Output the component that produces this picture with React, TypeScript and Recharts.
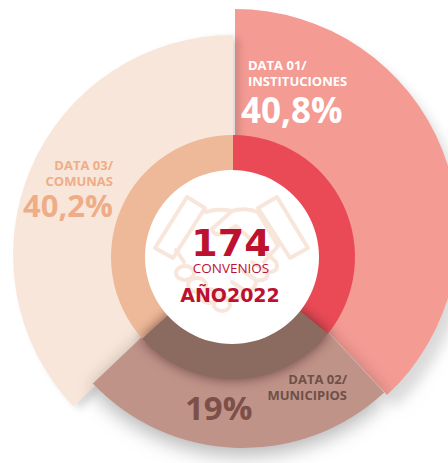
import { PieChart, Pie, Cell } from 'recharts';

const categories = ['Instituciones', 'Municipios', 'Comunas'];
const shareLabels = ['40,8%', '19%', '40,2%'];
// Slice sizes are the arcs as drawn in the picture (degrees), which differ from the printed shares.
const outerSweeps = [137, 89.5, 133.5];
const innerSweeps = [129, 99, 132];
const outerColors = ['#F49B94', '#C09389', '#F8E6DA'];
const innerColors = ['#E94A56', '#8B6A60', '#EEB998'];
// Each outer slice sits on its own centre and radius.
const outerShapes = [
  { index: 0, cx: 235, cy: 232, r: 223 },
  { index: 2, cx: 233, cy: 255, r: 220 },
  { index: 1, cx: 243, cy: 241, r: 207 },
];

const outerData = categories.map((name, i) => ({ name, value: outerSweeps[i] }));
const innerData = categories.map((name, i) => ({ name, value: innerSweeps[i] }));
const centerData = [{ name: 'centro', value: 1 }];

const RING_CX = 233;
const RING_CY = 257;
const labelFont = '"Open Sans", sans-serif';
const centerFont = '"DejaVu Sans", sans-serif';
const red = '#BC1230';

function HandshakeIcon() {
  return (
    <g fill="none" stroke="#F8E6DA" strokeWidth={4} strokeLinejoin="round" strokeLinecap="round">
      <path d="M187 197 L205 208 L173 258 L155 248 Z" />
      <path d="M277 197 L258 208 L290 258 L308 248 Z" />
      <path d="M206 212 Q218 208 232 211 Q245 207 258 212 L278 246 L264 262" />
      <path d="M232 211 L212 229 Q214 238 226 232 L236 226 L276 262 Q280 272 268 272 L252 262" />
      <path d="M176 250 L184 262" />
      <path d="M268 272 Q268 282 256 280 L242 270 M256 280 Q256 292 244 290 L232 282 M244 290 Q240 304 226 298 L212 290" />
      <ellipse cx={185} cy={273} rx={9} ry={7} />
      <ellipse cx={197} cy={285} rx={9} ry={7} />
      <ellipse cx={209} cy={296} rx={9} ry={7} />
      <ellipse cx={222} cy={305} rx={8} ry={6} />
    </g>
  );
}

export default function App() {
  return (
    <div style={{ position: 'absolute', left: 0, top: 0, width: 448, height: 463, overflow: 'hidden' }}>
      <style>{`
        .outer-0 { filter: drop-shadow(8px 12px 7px rgba(0,0,0,0.08)); }
        .outer-2 { filter: drop-shadow(6px 3px 4px rgba(0,0,0,0.08)); }
        .outer-1 { filter: drop-shadow(0px 6px 10px rgba(0,0,0,0.16)); }
        .inner-1 { filter: drop-shadow(0px 0px 6px rgba(60,30,30,0.35)); }
      `}</style>
      <PieChart width={448} height={463} margin={{ top: 0, right: 0, bottom: 0, left: 0 }}>
        {outerShapes.map(s => (
          <Pie
            key={s.index}
            className={`outer-${s.index}`}
            data={outerData}
            dataKey="value"
            cx={s.cx}
            cy={s.cy}
            innerRadius={0}
            outerRadius={s.r}
            startAngle={90}
            endAngle={-270}
            stroke="none"
            isAnimationActive={false}
          >
            {outerData.map((_, i) => (
              <Cell key={i} fill={i === s.index ? outerColors[i] : 'none'} />
            ))}
          </Pie>
        ))}
        {[0, 2, 1].map(index => (
          <Pie
            key={index}
            className={`inner-${index}`}
            data={innerData}
            dataKey="value"
            cx={RING_CX}
            cy={RING_CY}
            innerRadius={80}
            outerRadius={122}
            startAngle={90}
            endAngle={-270}
            stroke="none"
            isAnimationActive={false}
          >
            {innerData.map((_, i) => (
              <Cell key={i} fill={i === index ? innerColors[i] : 'none'} />
            ))}
          </Pie>
        ))}
        <Pie
          data={centerData}
          dataKey="value"
          cx={232}
          cy={RING_CY}
          innerRadius={0}
          outerRadius={87}
          stroke="none"
          fill="#FFFFFF"
          isAnimationActive={false}
        />
      </PieChart>
      <svg width={448} height={463} style={{ position: 'absolute', left: 0, top: 0 }}>
        <HandshakeIcon />
        <g fontFamily={labelFont} fontWeight={700}>
          <g fill="#FFFFFF">
            <text x={248} y={70} fontSize={13}>DATA 01/</text>
            <text x={248} y={86} fontSize={13}>INSTITUCIONES</text>
            <text x={241} y={123} fontSize={35}>{shareLabels[0]}</text>
          </g>
          <g fill="#EFAD87" textAnchor="end">
            <text x={113} y={170} fontSize={13}>DATA 03/</text>
            <text x={113} y={186} fontSize={13}>COMUNAS</text>
            <text x={113} y={217} fontSize={31}>{shareLabels[2]}</text>
          </g>
          <g fill="#6E5047" textAnchor="end">
            <text x={347} y={384} fontSize={13}>DATA 02/</text>
            <text x={347} y={400} fontSize={13}>MUNICIPIOS</text>
          </g>
          <text x={185} y={420} fontSize={33} fill="#7C5048">{shareLabels[1]}</text>
        </g>
        <g fill={red} textAnchor="middle">
          <text x={231} y={256} fontFamily={centerFont} fontWeight={700} fontSize={38}>174</text>
          <text x={231} y={273} fontFamily={labelFont} fontSize={13.5}>CONVENIOS</text>
          <text x={230} y={302} fontFamily={centerFont} fontWeight={700} fontSize={19}>AÑO2022</text>
        </g>
      </svg>
    </div>
  );
}
